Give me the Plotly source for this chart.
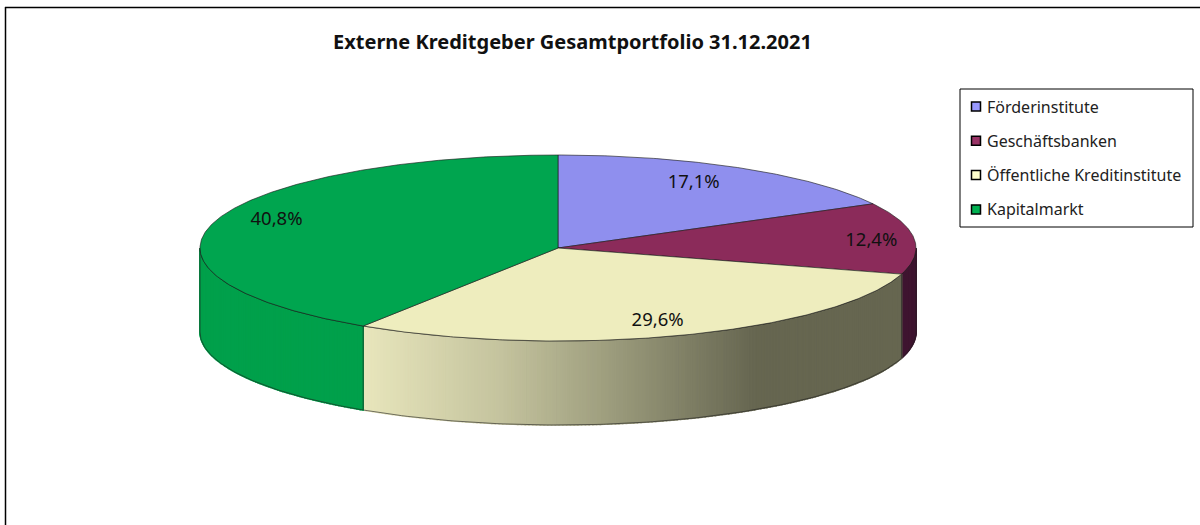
import math
import plotly.graph_objects as go

# Data
categories = ["Förderinstitute", "Geschäftsbanken", "Öffentliche Kreditinstitute", "Kapitalmarkt"]
values = [17.1, 12.4, 29.6, 40.8]
value_labels = ["17,1%", "12,4%", "29,6%", "40,8%"]
title_text = "Externe Kreditgeber Gesamtportfolio 31.12.2021"

# Styles
top_colors = ["#8F8FEE", "#8B2B5A", "#EEEDBE", "#00A54F"]
legend_colors = ["#9999FF", "#993366", "#FFFFCC", "#00B050"]
CX, CY, RX, RY, DEPTH = 558, 248, 358, 93, 84
FONT = "Noto Sans"
LABEL_R = [(0.74, 0.83), (0.88, 0.88), (0.80, 0.82), (0.82, 1.12)]
LABEL_DY = 2


def ell(deg, dy=0, r=1.0, ry=None):
    a = math.radians(deg)
    return (CX + RX * r * math.sin(a), CY - RY * (ry if ry is not None else r) * math.cos(a) + dy)


def span(a0, a1, step=1.0):
    n = max(2, int(abs(a1 - a0) / step) + 1)
    return [a0 + (a1 - a0) * i / (n - 1) for i in range(n)]


def lerp_hex(stops, x):
    for (x0, c0), (x1, c1) in zip(stops, stops[1:]):
        if x <= x1:
            t = max(0, (x - x0) / (x1 - x0))
            return "rgb(%d,%d,%d)" % tuple(round(c0[i] + (c1[i] - c0[i]) * t) for i in range(3))
    return "rgb(%d,%d,%d)" % stops[-1][1]


side_stops = [
    [(0, (63, 21, 48)), (2000, (63, 21, 48))],
    [(0, (63, 21, 48)), (2000, (63, 21, 48))],
    [(362, (232, 230, 188)), (500, (196, 195, 158)), (600, (160, 160, 128)),
     (700, (122, 122, 97)), (755, (102, 102, 80)), (1000, (102, 102, 80))],
    [(200, (0, 160, 75)), (2000, (0, 160, 75))],
]

fig = go.Figure()
total = sum(values)
angles = [0]
for v in values:
    angles.append(angles[-1] + v / total * 360)

# Side walls (front half only)
for i in range(4):
    a0, a1 = max(angles[i], 90), min(angles[i + 1], 270)
    if a1 <= a0:
        continue
    steps = span(a0, a1, 0.6)
    for s0, s1 in zip(steps, steps[1:]):
        pts = [ell(s0), ell(s1), ell(s1, DEPTH), ell(s0, DEPTH), ell(s0)]
        c = lerp_hex(side_stops[i], (ell(s0)[0] + ell(s1)[0]) / 2)
        fig.add_trace(go.Scatter(x=[p[0] for p in pts], y=[p[1] for p in pts], mode="lines",
                                 fill="toself", fillcolor=c, line=dict(color=c, width=1.6),
                                 hoverinfo="skip", showlegend=False))
    # wall outline
    steps = span(a0, a1, 1.0)
    outline = [ell(s) for s in steps] + [ell(s, DEPTH) for s in reversed(steps)] + [ell(a0)]
    fig.add_trace(go.Scatter(x=[p[0] for p in outline], y=[p[1] for p in outline], mode="lines",
                             line=dict(color="rgba(30,30,30,0.75)", width=0.8),
                             hoverinfo="skip", showlegend=False))

# Top faces
for i in range(4):
    pts = [(CX, CY)] + [ell(s) for s in span(angles[i], angles[i + 1], 0.5)] + [(CX, CY)]
    fig.add_trace(go.Scatter(x=[p[0] for p in pts], y=[p[1] for p in pts], mode="lines",
                             fill="toself", fillcolor=top_colors[i],
                             line=dict(color="rgba(30,30,30,0.8)", width=0.8),
                             name=categories[i], text=value_labels[i], hoverinfo="name+text",
                             showlegend=False))

# Value labels
lx, ly = [], []
for i in range(4):
    m = (angles[i] + angles[i + 1]) / 2
    p = ell(m, LABEL_DY, LABEL_R[i][0], LABEL_R[i][1])
    lx.append(p[0]); ly.append(p[1])
fig.add_trace(go.Scatter(x=lx, y=ly, mode="text", text=value_labels,
                         textposition="middle center",
                         textfont=dict(family=FONT, size=18.5, color="#111111"),
                         hoverinfo="skip", showlegend=False))

# Legend
LEG_X0, LEG_Y0, LEG_X1, LEG_Y1 = 960, 89, 1193, 227
leg_y = [LEG_Y0 + 17.5 + 34.3 * i for i in range(4)]
fig.add_trace(go.Scatter(x=[976] * 4, y=leg_y, mode="markers",
                         marker=dict(symbol="square", size=9, color=legend_colors,
                                     line=dict(color="#000000", width=1.5)),
                         hoverinfo="skip", showlegend=False))
annotations = [dict(x=985, y=yy, xref="x", yref="y", text=c, showarrow=False, xanchor="left",
                    yanchor="middle", font=dict(family=FONT, size=16, color="#222222"))
               for c, yy in zip(categories, leg_y)]
annotations.append(dict(x=572, y=41, xref="x", yref="y", text="<b>%s</b>" % title_text,
                        showarrow=False, xanchor="center", yanchor="middle",
                        font=dict(family=FONT, size=20, color="#111111")))

shapes = [
    dict(type="rect", xref="x", yref="y", x0=LEG_X0, y0=LEG_Y0, x1=LEG_X1, y1=LEG_Y1,
         line=dict(color="#000000", width=1), fillcolor="white", layer="below"),
    dict(type="line", xref="x", yref="y", x0=5.5, y0=7, x1=5.5, y1=525, line=dict(color="#000000", width=1.5)),
    dict(type="line", xref="x", yref="y", x0=5, y0=7.5, x1=1200, y1=7.5, line=dict(color="#000000", width=1.5)),
]

fig.update_layout(
    width=1200, height=525, margin=dict(l=0, r=0, t=0, b=0), autosize=False,
    paper_bgcolor="white", plot_bgcolor="white", showlegend=False,
    xaxis=dict(range=[0, 1200], visible=False, fixedrange=True),
    yaxis=dict(range=[525, 0], visible=False, fixedrange=True),
    annotations=annotations, shapes=shapes,
)
fig.write_html("out.html", config={"displayModeBar": False},
               post_script="document.body.style.margin='0';document.documentElement.style.overflow='hidden';")
